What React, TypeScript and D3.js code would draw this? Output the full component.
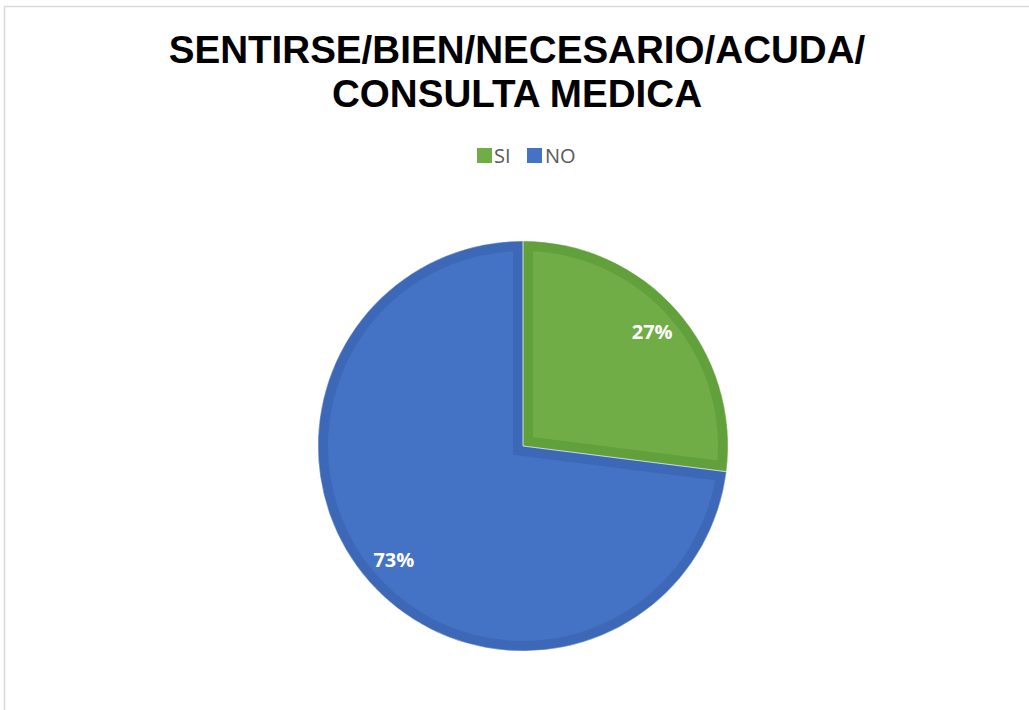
import React from 'react';
import * as d3 from 'd3';

const categories = ['SI', 'NO'];
const values = [27, 73];
const fillColors = ['#70AD47', '#4472C4'];
const edgeColors = ['#62A03B', '#3D68B7'];
const titleLines = ['SENTIRSE/BIEN/NECESARIO/ACUDA/', 'CONSULTA MEDICA'];

const App = () => {
  const svgWidth = 1029;
  const svgHeight = 710;
  const cx = 523;
  const cy = 446;
  const radius = 205;
  const edgeWidth = 10;

  const pie = d3.pie<number>().sort(null).value(d => d);
  const arcs = pie(values);
  const arc = d3.arc<d3.PieArcDatum<number>>().innerRadius(0).outerRadius(radius);
  const labelArc = d3.arc<d3.PieArcDatum<number>>().innerRadius(radius * 0.84).outerRadius(radius * 0.84);

  const total = d3.sum(values);
  const pct = (v: number) => Math.round((v / total) * 100) + '%';

  // legend layout
  const legendY = 155.5;
  const legendItems = [
    { x: 477, textX: 494 },
    { x: 527, textX: 545 },
  ];

  return (
    <svg width={svgWidth} height={svgHeight} style={{ position: 'absolute', left: 0, top: 0 }}>
      <rect x={0} y={0} width={svgWidth} height={svgHeight} fill="#fff" />
      <line x1={4} y1={6.5} x2={svgWidth} y2={6.5} stroke="#d9d9d9" strokeWidth={1.5} />
      <line x1={4.5} y1={6} x2={4.5} y2={svgHeight} stroke="#d9d9d9" strokeWidth={1.5} />

      <g fontFamily="'Liberation Sans', Arial, sans-serif" fontWeight="bold" fontSize={38.6} textAnchor="middle" fill="#000">
        {titleLines.map((t, i) => (
          <text key={i} x={517} y={63 + i * 44}>{t}</text>
        ))}
      </g>

      <g fontFamily="'Open Sans', 'Liberation Sans', sans-serif" fontSize={20} fill="#595959">
        {categories.map((c, i) => (
          <g key={c}>
            <rect x={legendItems[i].x} y={legendY - 7.5} width={15} height={15} fill={fillColors[i]} />
            <text x={legendItems[i].textX} y={legendY} dy="0.36em">{c}</text>
          </g>
        ))}
      </g>

      <defs>
        {arcs.map((a, i) => (
          <clipPath key={i} id={'slice-clip-' + i}>
            <path d={arc(a) || ''} transform={`translate(${cx},${cy})`} />
          </clipPath>
        ))}
      </defs>

      <g>
        {arcs.map((a, i) => (
          <g key={i} clipPath={`url(#slice-clip-${i})`}>
            <path
              d={arc(a) || ''}
              transform={`translate(${cx},${cy})`}
              fill={fillColors[i]}
              stroke={edgeColors[i]}
              strokeWidth={edgeWidth * 2}
              strokeLinejoin="miter"
            />
          </g>
        ))}
        {arcs.map((a, i) => (
          <path
            key={'o' + i}
            d={arc(a) || ''}
            transform={`translate(${cx},${cy})`}
            fill="none"
            stroke="#ffffff"
            strokeOpacity={0.5}
            strokeWidth={0.8}
          />
        ))}
      </g>

      <g fontFamily="'Open Sans', 'Liberation Sans', sans-serif" fontWeight="bold" fontSize={20} fill="#fff" textAnchor="middle">
        {arcs.map((a, i) => {
          const [lx, ly] = labelArc.centroid(a);
          return (
            <text key={i} x={cx + lx} y={cy + ly} dy="0.35em">{pct(a.data)}</text>
          );
        })}
      </g>
    </svg>
  );
};

export default App;
